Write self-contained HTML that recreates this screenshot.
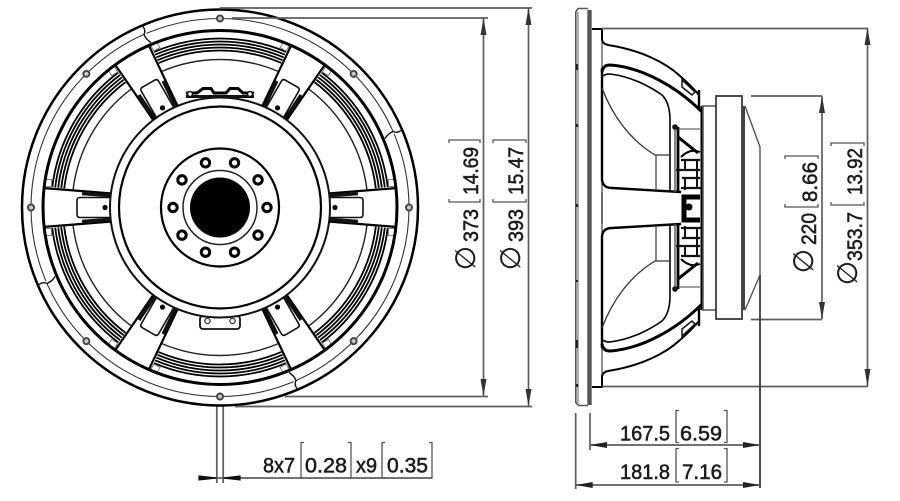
<!DOCTYPE html>
<html>
<head>
<meta charset="utf-8">
<style>
html,body{margin:0;padding:0;background:#fff;width:900px;height:501px;overflow:hidden}
svg{display:block;filter:blur(.3px)}
text{font-family:"Liberation Sans",sans-serif;fill:#1c1c1c;stroke:#1c1c1c;stroke-width:.55}
.p{font-family:"DejaVu Sans",sans-serif;font-size:28px;text-anchor:middle;stroke-width:.2}
.d{stroke:#5e5e5e;stroke-width:1.7;fill:none}
.b{stroke:#555;stroke-width:1.3;fill:none}
</style>
</head>
<body>
<svg width="900" height="501" viewBox="0 0 900 501" xmlns="http://www.w3.org/2000/svg">
<defs>
<g id="sector" fill="none" stroke="#000">
<path stroke-width="1.8" d="M155.8,19.1A157,157 0 0 1 94.5,125.4"/>
<path stroke-width="1.8" d="M158.8,19.5A160,160 0 0 1 96.3,127.8"/>
<path stroke-width="1.8" d="M161.8,19.9A163,163 0 0 1 98.1,130.2"/>
<path stroke-width="1.8" d="M164.8,20.2A166,166 0 0 1 99.9,132.6"/>
<path stroke-width="1.8" d="M167.7,20.6A169,169 0 0 1 101.7,135"/>
<path stroke-width="1.4" stroke="#222" d="M146.9,18A148,148 0 0 1 89.1,118.2"/>
</g>
<g id="spoke">
<path d="M108,-14L177,-19.5V19.5L108,14Z" fill="#fff" stroke="none"/>
<path d="M108,-14L177,-19.5M108,14L177,19.5" stroke="#000" stroke-width="2.2" fill="none"/>
<path d="M110,-11.800L138,-13.800M110,11.800L138,13.800" stroke="#111" stroke-width="3" fill="none"/>
<path d="M108,-10H140Q143,-10 143,-7V7Q143,10 140,10H108" stroke="#111" stroke-width="1.6" fill="#fff"/>
<circle cx="115" cy="0" r="2.600" fill="#000"/>
<rect x="168.500" y="-28" width="7" height="7" fill="#fff" stroke="#666" stroke-width=".8"/>
<rect x="168.500" y="21" width="7" height="7" fill="#fff" stroke="#666" stroke-width=".8"/>
</g>
<g id="notch"><path d="M-77,-181q3,4 1,8q2,5 7,8" fill="#fff" stroke="#111" stroke-width="1.400"/></g>
<g id="screw"><circle cx="189" cy="0" r="3" fill="#ccc" stroke="#444" stroke-width="2"/></g>
<g id="bolt"><circle cx="0" cy="-47" r="4.200" fill="#fff" stroke="#000" stroke-width="3"/></g>
<g id="half" fill="none">
<path d="M592,29H602V40Q603,44 608,45C640,50 665,62 680,76C688,83 694,89 699,95" stroke="#000" stroke-width="2"/>
<path d="M602,72Q603,65 610,65C640,67 675,85 702,112" stroke="#000" stroke-width="3"/>
<path d="M603,76Q605,74 610,74C635,77 655,90 662,95Q670,103 670,120V191" stroke="#000" stroke-width="1.600"/>
<path d="M602,68V180Q603,188 612,188L681,192" stroke="#000" stroke-width="2.400"/>
<path d="M602,88C612,115 630,140 655,155H670" stroke="#333" stroke-width="1.300"/>
<path d="M656,155V190M675,128V192" stroke="#555" stroke-width="1.400"/>
<path d="M682,80L695,92L692,95L682,87Z" fill="#fff" stroke="#111" stroke-width="1.500"/>
<path d="M699,90V108" stroke="#000" stroke-width="2.400"/>
<path d="M702,106V208" stroke="#000" stroke-width="3"/>
<path d="M678,127V192" stroke="#000" stroke-width="2.800"/>
<circle cx="675" cy="127" r="2.800" fill="#111"/>
<path d="M678,129H702" stroke="#444" stroke-width="1"/>
<path d="M678,137L698,153" stroke="#000" stroke-width="3"/>
<path d="M681,157Q690,148 700,152" stroke="#000" stroke-width="2"/>
<path d="M681,160H700M676,170H700M682,178H700M681,188H701" stroke="#111" stroke-width="2.200"/>
<path d="M685,160V170M697,160V188M685,178V190" stroke="#111" stroke-width="2"/>
</g>
</defs>

<path class="d" d="M216.800,404V483M223.200,404V483"/>

<g transform="translate(220 207.500)">
<circle r="198" fill="#fff" stroke="#000" stroke-width="2.500"/>
<circle r="189" fill="none" stroke="#333" stroke-width="1.100"/>
<use href="#screw"/><use href="#screw" transform="rotate(45)"/><use href="#screw" transform="rotate(90)"/><use href="#screw" transform="rotate(135)"/><use href="#screw" transform="rotate(180)"/><use href="#screw" transform="rotate(225)"/><use href="#screw" transform="rotate(270)"/><use href="#screw" transform="rotate(315)"/>
<use href="#sector"/><use href="#sector" transform="rotate(60)"/><use href="#sector" transform="rotate(120)"/><use href="#sector" transform="rotate(180)"/><use href="#sector" transform="rotate(240)"/><use href="#sector" transform="rotate(300)"/>
<use href="#spoke"/><use href="#spoke" transform="rotate(60)"/><use href="#spoke" transform="rotate(120)"/><use href="#spoke" transform="rotate(180)"/><use href="#spoke" transform="rotate(240)"/><use href="#spoke" transform="rotate(300)"/>
<circle r="177" fill="none" stroke="#000" stroke-width="3"/>
<use href="#notch"/><use href="#notch" transform="rotate(90)"/><use href="#notch" transform="rotate(180)"/><use href="#notch" transform="rotate(270)"/>
</g>
<path d="M186,93H197L203,88.500H211L214,93H226L230,88.500H238L243,93H254" fill="none" stroke="#000" stroke-width="3"/>
<path d="M186,96.500H254" fill="none" stroke="#111" stroke-width="3"/>
<circle cx="190" cy="94" r="2.500" fill="#fff" stroke="#111" stroke-width="1.500"/>
<circle cx="250" cy="94" r="2.500" fill="#fff" stroke="#111" stroke-width="1.500"/>
<rect x="200" y="316" width="40" height="13" rx="3" fill="#fff" stroke="#111" stroke-width="1.800"/>
<circle cx="207.500" cy="321" r="2.600" fill="#fff" stroke="#333" stroke-width="1.300"/>
<circle cx="232.500" cy="321" r="2.600" fill="#fff" stroke="#333" stroke-width="1.300"/>
<g transform="translate(220 207.500)">
<circle r="110" fill="#fff" stroke="#111" stroke-width="2"/>
<circle r="101" fill="#fff" stroke="#000" stroke-width="2.200"/>
<circle r="59" fill="#fff" stroke="#000" stroke-width="2.200"/>
<circle r="37" fill="#fff" stroke="#222" stroke-width="1.500"/>
<circle r="30" fill="#000"/>
<use href="#bolt" transform="rotate(18)"/><use href="#bolt" transform="rotate(54)"/><use href="#bolt" transform="rotate(90)"/><use href="#bolt" transform="rotate(126)"/><use href="#bolt" transform="rotate(162)"/><use href="#bolt" transform="rotate(198)"/><use href="#bolt" transform="rotate(234)"/><use href="#bolt" transform="rotate(270)"/><use href="#bolt" transform="rotate(306)"/><use href="#bolt" transform="rotate(342)"/>
</g>

<path class="d" d="M220,8H532M232,18H488M285,396.500H488M235,406.500H532M483.500,18V396M528.500,8V406"/>
<g fill="#333">
<path d="M483.500,18l-3,17h6zM483.500,396l-3,-17h6zM528.500,8l-3,17h6zM528.500,406l-3,-17h6z"/>
</g>
<path class="b" d="M449,143V140H480V143M449,199V202H480V199"/>
<path class="b" d="M493,143V140H526V143M493,199V202H526V199"/>
<text transform="translate(478,195) rotate(-90)" font-size="21" textLength="48" lengthAdjust="spacingAndGlyphs">14.69</text>
<text transform="translate(478,242) rotate(-90)" font-size="21" textLength="33" lengthAdjust="spacingAndGlyphs">373</text>
<text class="p" transform="translate(475,258) rotate(-90)">∅</text>
<text transform="translate(523,195) rotate(-90)" font-size="21" textLength="48" lengthAdjust="spacingAndGlyphs">15.47</text>
<text transform="translate(523,242) rotate(-90)" font-size="21" textLength="33" lengthAdjust="spacingAndGlyphs">393</text>
<text class="p" transform="translate(520,258) rotate(-90)">∅</text>

<path d="M576,405V12L578,8H588L591,12V403L587,405Z" fill="#fff" stroke="none"/>
<path d="M575.800,403V12L578,8.500H588" fill="none" stroke="#555" stroke-width="1.600"/>
<path d="M578,12V403" stroke="#777" stroke-width="1.200"/>
<path d="M589.500,10V405" stroke="#555" stroke-width="4.400"/>
<path d="M576,403L579,405.500H588" fill="none" stroke="#555" stroke-width="1.600"/>
<path d="M577,64v6M577,124v3M577,204v3M577,280v2M577,340v8M577,384v3" stroke="#222" stroke-width="2.200"/>
<path d="M602,29V387" stroke="#555" stroke-width="1.300"/>
<use href="#half"/>
<use href="#half" transform="translate(0 416) scale(1 -1)"/>
<path d="M702,200V216" stroke="#000" stroke-width="3"/>
<path d="M602,192V224" stroke="#333" stroke-width="1.300" fill="none"/>
<path d="M700,197H684V220H700" stroke="#000" stroke-width="5" fill="none"/>
<circle cx="689" cy="207" r="3.500" fill="#000"/>
<path d="M702,106H715.500M702,310H715.500M703,106V310" stroke="#555" stroke-width="1.500" fill="none"/>
<path d="M716,319V96H742V319Z" fill="#fff" stroke="#333" stroke-width="1.700"/>
<path d="M744,106V310" stroke="#444" stroke-width="3.400"/>
<path d="M745,106L760,147V275L745,310" stroke="#555" stroke-width="1.400" fill="#fff"/>

<path class="d" d="M601,28.500H868M751,96H822M751,319.500H822M602,386.500H868M822,96V319M867.500,28V386"/>
<path d="M760,275V488" stroke="#444" stroke-width="1.900"/>
<g fill="#333">
<path d="M822,96l-3,17h6zM822,319l-3,-17h6zM867.500,28l-3,17h6zM867.500,386l-3,-17h6z"/>
</g>
<path class="b" d="M785,159V156H818V159M785,204V207H818V204"/>
<path class="b" d="M831,146V143H864V146M831,202V205H864V202"/>
<text transform="translate(817,202) rotate(-90)" font-size="21" textLength="40" lengthAdjust="spacingAndGlyphs">8.66</text>
<text transform="translate(816,245) rotate(-90)" font-size="21" textLength="32" lengthAdjust="spacingAndGlyphs">220</text>
<text class="p" transform="translate(813,261) rotate(-90)">∅</text>
<text transform="translate(862,195) rotate(-90)" font-size="21" textLength="47" lengthAdjust="spacingAndGlyphs">13.92</text>
<text transform="translate(862,261) rotate(-90)" font-size="21" textLength="49" lengthAdjust="spacingAndGlyphs">353.7</text>
<text class="p" transform="translate(857,273) rotate(-90)">∅</text>

<path class="d" d="M199,478H432"/>
<path d="M199,476V480L216.500,478ZM240,476V480L223.500,478Z" fill="#111" stroke="#111" stroke-width="1.200"/>
<path class="b" d="M304,442.500H301V478H304M348,442.500H351V478H348M385,442.500H382V478H385M429,442.500H432V478H429"/>
<text x="263" y="472.500" font-size="21" textLength="32" lengthAdjust="spacingAndGlyphs">8x7</text>
<text x="305" y="472.500" font-size="21" textLength="42" lengthAdjust="spacingAndGlyphs">0.28</text>
<text x="356" y="472.500" font-size="21" textLength="21" lengthAdjust="spacingAndGlyphs">x9</text>
<text x="387" y="472.500" font-size="21" textLength="41" lengthAdjust="spacingAndGlyphs">0.35</text>

<path class="d" d="M575.700,413V489M590,413V450M590,445H760M575.700,485H760"/>
<path d="M590,445l17,-3v6zM760,445l-17,-3v6zM575.700,485l17,-3v6zM760,485l-17,-3v6z" fill="#222"/>
<path class="b" d="M679,410.500H676V442.500H679M724,410.500H727V442.500H724M679,448.500H676V482H679M724,448.500H727V482H724"/>
<text x="620" y="440.700" font-size="21" textLength="50" lengthAdjust="spacingAndGlyphs">167.5</text>
<text x="680" y="440.700" font-size="21" textLength="42" lengthAdjust="spacingAndGlyphs">6.59</text>
<text x="620" y="479" font-size="21" textLength="50" lengthAdjust="spacingAndGlyphs">181.8</text>
<text x="682" y="479" font-size="21" textLength="40" lengthAdjust="spacingAndGlyphs">7.16</text>
</svg>
</body>
</html>
